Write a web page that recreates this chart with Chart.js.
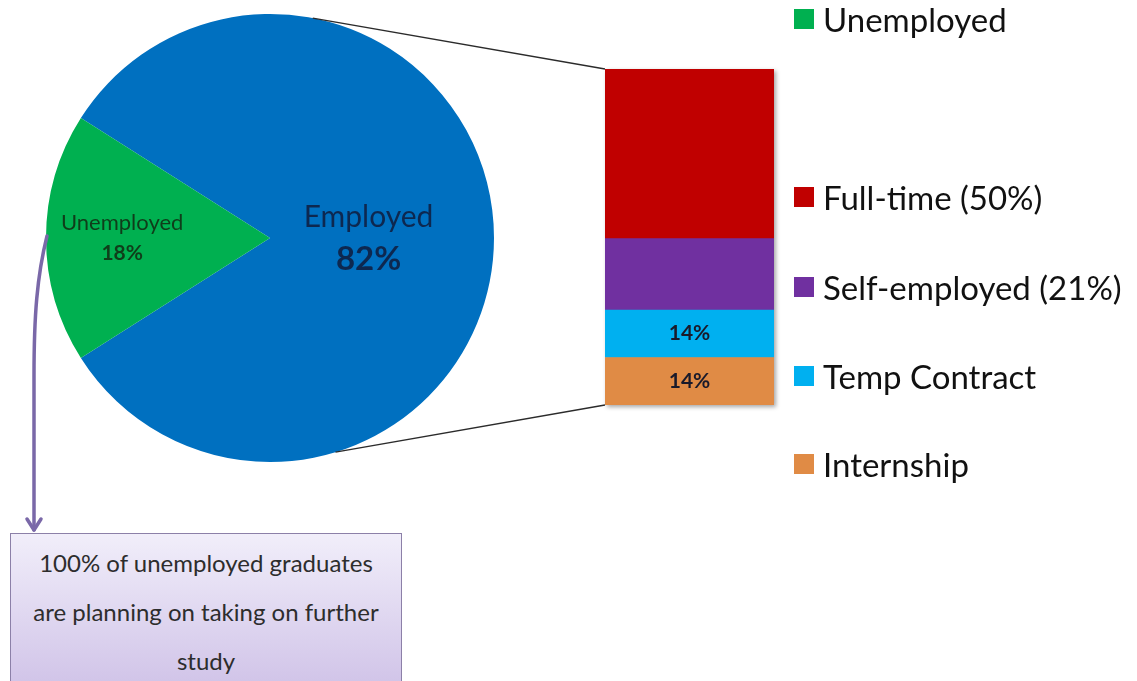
<!DOCTYPE html>
<html>
<head>
<meta charset="utf-8">
<script src="https://cdn.jsdelivr.net/npm/chart.js@4"></script>
<style>
  body { margin: 0; background: #fff; font-family: Lato, "Open Sans", sans-serif; }
  #wrap { position: relative; width: 1137px; height: 681px; overflow: hidden; }
  #pieCanvas { position: absolute; left: 0; top: 0; }
  #barCanvas { position: absolute; left: 605px; top: 69px; filter: drop-shadow(2px 2px 2px rgba(0,0,0,0.35)); }
  #overlay { position: absolute; left: 0; top: 0; pointer-events: none; }
  .leg { position: absolute; left: 794px; height: 40px; display: flex; align-items: center; font-size: 33px; color: #111; white-space: nowrap; }
  .leg span.sw { display: inline-block; width: 20px; height: 20px; margin-right: 9px; }
  #note { position: absolute; left: 10px; top: 533px; width: 392px; height: 170px;
          border: 1px solid #8c80a8; box-sizing: border-box;
          background: linear-gradient(#f1eefa, #cdbfe6);
          text-align: center; font-size: 24px; line-height: 49px; color: #2d2d2d; padding-top: 4px; }
</style>
</head>
<body>
<div id="wrap">
  <canvas id="pieCanvas" width="540" height="476"></canvas>
  <canvas id="barCanvas" width="169" height="336"></canvas>
  <canvas id="overlay" width="1137" height="681"></canvas>
  <div id="legend"></div>
  <div id="note">100% of unemployed graduates<br>are planning on taking on further<br>study</div>
</div>
<script>
// Situación de los graduados: empleados vs. desempleados
const pieLabels = ['Employed', 'Unemployed'];
const pieValues = [82, 18];
const pieColors = ['#0070C0', '#00B050'];

// Desglose de los empleados (de abajo hacia arriba en la barra)
const barLabels = ['Internship', 'Temp Contract', 'Self-employed', 'Full-time'];
const barValues = [14, 14, 21, 50];
const barColors = ['#E08B45', '#00B0F0', '#7030A0', '#C00000'];
const barShowValue = [true, true, false, false];

// Leyenda de la derecha
const legendLabels = ['Unemployed', 'Full-time (50%)', 'Self-employed (21%)', 'Temp Contract', 'Internship'];
const legendColors = ['#00B050', '#C00000', '#7030A0', '#00B0F0', '#E08B45'];
const legendTops = [-1, 177, 267, 356, 444];

const legend = document.getElementById('legend');
legendLabels.forEach((txt, i) => {
  const d = document.createElement('div');
  d.className = 'leg';
  d.style.top = legendTops[i] + 'px';
  d.innerHTML = `<span class="sw" style="background:${legendColors[i]}"></span>${txt}`;
  legend.appendChild(d);
});

// etiquetas dentro de la tarta
const pieText = {
  id: 'pieText',
  afterDatasetsDraw(chart) {
    const ctx = chart.ctx;
    const arcs = chart.getDatasetMeta(0).data;
    const spec = [
      { f: 0.44, name: '30px Lato', val: 'bold 33px Lato', color: '#0d2850', dy: 21 },
      { f: 0.66, name: '22px Lato', val: 'bold 21px Lato', color: '#0f3d1a', dy: 15 }
    ];
    ctx.save();
    ctx.textAlign = 'center';
    ctx.textBaseline = 'middle';
    arcs.forEach((arc, i) => {
      const s = spec[i];
      const mid = (arc.startAngle + arc.endAngle) / 2;
      const x = arc.x + Math.cos(mid) * arc.outerRadius * s.f;
      const y = arc.y + Math.sin(mid) * arc.outerRadius * s.f;
      ctx.fillStyle = s.color;
      ctx.font = s.name;
      ctx.fillText(pieLabels[i], x, y - s.dy);
      ctx.font = s.val;
      ctx.fillText(pieValues[i] + '%', x, y + s.dy);
    });
    ctx.restore();
  }
};

const pieChart = new Chart(document.getElementById('pieCanvas'), {
  type: 'pie',
  data: {
    labels: pieLabels,
    datasets: [{ data: pieValues, backgroundColor: pieColors, borderWidth: 0 }]
  },
  options: {
    responsive: false,
    animation: false,
    rotation: -57.6,
    layout: { padding: { left: 46, right: 46, top: 14, bottom: 14 } },
    plugins: { legend: { display: false }, tooltip: { enabled: false } }
  },
  plugins: [pieText]
});

// porcentajes dentro de los segmentos pequeños
const barText = {
  id: 'barText',
  afterDatasetsDraw(chart) {
    const ctx = chart.ctx;
    ctx.save();
    ctx.textAlign = 'center';
    ctx.textBaseline = 'middle';
    ctx.font = 'bold 21px Lato';
    ctx.fillStyle = '#1a1a2a';
    chart.data.datasets.forEach((ds, i) => {
      if (!barShowValue[i]) return;
      const bar = chart.getDatasetMeta(i).data[0];
      ctx.fillText(ds.data[0] + '%', bar.x, (bar.y + bar.base) / 2);
    });
    ctx.restore();
  }
};

const barChart = new Chart(document.getElementById('barCanvas'), {
  type: 'bar',
  data: {
    labels: ['Employed'],
    datasets: barLabels.map((l, i) => ({
      label: l,
      data: [barValues[i]],
      backgroundColor: barColors[i],
      borderWidth: 0,
      barPercentage: 1,
      categoryPercentage: 1
    }))
  },
  options: {
    responsive: false,
    animation: false,
    layout: { padding: 0 },
    scales: {
      x: { stacked: true, display: false },
      y: { stacked: true, display: false, min: 0, max: barValues.reduce((a, b) => a + b, 0) }
    },
    plugins: { legend: { display: false }, tooltip: { enabled: false } }
  },
  plugins: [barText]
});

// líneas de unión y flecha hacia la nota
const ov = document.getElementById('overlay').getContext('2d');
const pieArc = pieChart.getDatasetMeta(0).data[0];
const barTop = barChart.getDatasetMeta(barLabels.length - 1).data[0];
const barBottom = barChart.getDatasetMeta(0).data[0];
const bx = 605, by = 69;
const rad = d => d * Math.PI / 180;

ov.strokeStyle = '#2b2b2b';
ov.lineWidth = 1.3;
ov.beginPath();
ov.moveTo(pieArc.x + Math.cos(rad(-79)) * pieArc.outerRadius, pieArc.y + Math.sin(rad(-79)) * pieArc.outerRadius);
ov.lineTo(bx + barTop.x - barTop.width / 2, by + barTop.y);
ov.moveTo(pieArc.x + Math.cos(rad(73)) * pieArc.outerRadius, pieArc.y + Math.sin(rad(73)) * pieArc.outerRadius);
ov.lineTo(bx + barBottom.x - barBottom.width / 2, by + barBottom.base);
ov.stroke();

const sx = pieArc.x - pieArc.outerRadius + 1, sy = pieArc.y - 2;
ov.strokeStyle = '#7A68A8';
ov.lineWidth = 3.5;
ov.lineCap = 'round';
ov.lineJoin = 'round';
ov.beginPath();
ov.moveTo(sx, sy);
ov.bezierCurveTo(sx - 10, sy + 40, 34, sy + 80, 34, sy + 140);
ov.lineTo(34, 530);
ov.stroke();
ov.beginPath();
ov.moveTo(27, 519);
ov.lineTo(34, 530);
ov.lineTo(41, 519);
ov.stroke();
</script>
</body>
</html>
